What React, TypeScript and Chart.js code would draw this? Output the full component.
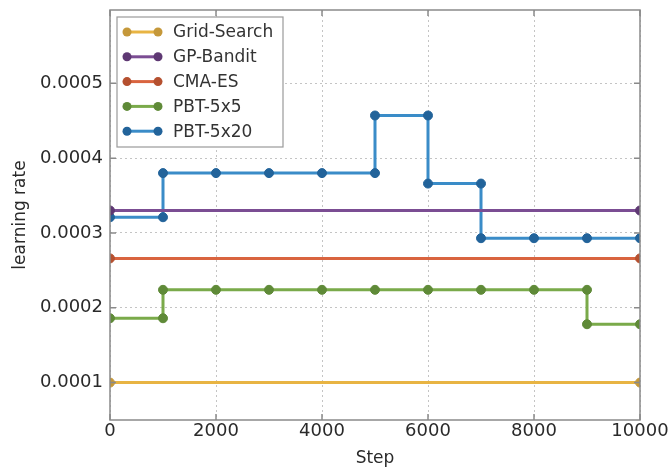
import React, { useEffect, useRef } from "react";
import { Chart, registerables } from "chart.js";

Chart.register(...registerables);

const seriesLabels = ["Grid-Search", "GP-Bandit", "CMA-ES", "PBT-5x5", "PBT-5x20"];

const gridSearchSteps = [0, 10000];
const gridSearchLR = [0.0001, 0.0001];

const gpBanditSteps = [0, 10000];
const gpBanditLR = [0.00033, 0.00033];

const cmaEsSteps = [0, 10000];
const cmaEsLR = [0.000266, 0.000266];

const pbt5x5Steps = [0, 1000, 1000, 2000, 3000, 4000, 5000, 6000, 7000, 8000, 9000, 9000, 10000];
const pbt5x5LR = [0.000186, 0.000186, 0.000224, 0.000224, 0.000224, 0.000224, 0.000224, 0.000224, 0.000224, 0.000224, 0.000224, 0.000178, 0.000178];

const pbt5x20Steps = [0, 1000, 1000, 2000, 3000, 4000, 5000, 5000, 6000, 6000, 7000, 7000, 8000, 9000, 10000];
const pbt5x20LR = [0.000321, 0.000321, 0.00038, 0.00038, 0.00038, 0.00038, 0.00038, 0.000457, 0.000457, 0.000366, 0.000366, 0.000293, 0.000293, 0.000293, 0.000293];

const yTickValues = [0.0001, 0.0002, 0.0003, 0.0004, 0.0005];
const xTickValues = [0, 2000, 4000, 6000, 8000, 10000];

const lineColors = ["#E8B443", "#7B4D93", "#D9643F", "#7AAA4A", "#3A8CC8"];
const markerColors = ["#C5983A", "#5E3873", "#B5502F", "#5F8A38", "#22639A"];

const FONT = "'DejaVu Sans', sans-serif";

function pairs(xs: number[], ys: number[]) {
  return xs.map((x, i) => ({ x, y: ys[i] }));
}

const framePlugin = {
  id: "frame",
  afterDatasetsDraw(chart: any) {
    const { ctx, chartArea: a, scales } = chart;
    ctx.save();
    ctx.strokeStyle = "#8a8a8a";
    ctx.lineWidth = 1.5;
    const tl = 6;
    ctx.beginPath();
    scales.x.ticks.forEach((t: any) => {
      const px = scales.x.getPixelForValue(t.value);
      ctx.moveTo(px, a.bottom);
      ctx.lineTo(px, a.bottom - tl);
      ctx.moveTo(px, a.top);
      ctx.lineTo(px, a.top + tl);
    });
    scales.y.ticks.forEach((t: any) => {
      const py = scales.y.getPixelForValue(t.value);
      ctx.moveTo(a.left, py);
      ctx.lineTo(a.left + tl, py);
      ctx.moveTo(a.right, py);
      ctx.lineTo(a.right - tl, py);
    });
    ctx.stroke();
    ctx.strokeRect(a.left, a.top, a.right - a.left, a.bottom - a.top);

    // legend inside upper left
    const bx = a.left + 7;
    const by = a.top + 7;
    const bw = 166;
    const bh = 130;
    ctx.fillStyle = "#ffffff";
    ctx.fillRect(bx, by, bw, bh);
    ctx.strokeStyle = "#9a9a9a";
    ctx.lineWidth = 1.2;
    ctx.strokeRect(bx, by, bw, bh);
    ctx.font = `17px ${FONT}`;
    ctx.textBaseline = "middle";
    ctx.textAlign = "left";
    chart.data.datasets.forEach((ds: any, i: number) => {
      const cy = by + 15 + i * 24.8;
      const x1 = bx + 10;
      const x2 = bx + 41;
      ctx.strokeStyle = ds.borderColor;
      ctx.lineWidth = 3;
      ctx.beginPath();
      ctx.moveTo(x1, cy);
      ctx.lineTo(x2, cy);
      ctx.stroke();
      ctx.fillStyle = ds.pointBackgroundColor;
      [x1, x2].forEach((px) => {
        ctx.beginPath();
        ctx.arc(px, cy, 4.5, 0, Math.PI * 2);
        ctx.fill();
      });
      ctx.fillStyle = "#333333";
      ctx.fillText(ds.label, bx + 56, cy + 1);
    });
    ctx.restore();
  },
};

export default function App() {
  const canvasRef = useRef<HTMLCanvasElement>(null);

  useEffect(() => {
    document.body.style.margin = "0";
    const canvas = canvasRef.current;
    if (!canvas) return;
    const steps = [gridSearchSteps, gpBanditSteps, cmaEsSteps, pbt5x5Steps, pbt5x20Steps];
    const lrs = [gridSearchLR, gpBanditLR, cmaEsLR, pbt5x5LR, pbt5x20LR];
    const chart = new Chart(canvas, {
      type: "line",
      data: {
        datasets: seriesLabels.map((label, i) => ({
          label,
          data: pairs(steps[i], lrs[i]),
          borderColor: lineColors[i],
          backgroundColor: lineColors[i],
          pointBackgroundColor: markerColors[i],
          pointBorderColor: markerColors[i],
          pointRadius: 4.5,
          pointBorderWidth: 1,
          borderWidth: 3,
          tension: 0,
          fill: false,
          clip: 0,
        })),
      },
      options: {
        responsive: false,
        animation: false,
        devicePixelRatio: 1,
        layout: { padding: { top: 10, right: 31, left: 0, bottom: 0 } },
        plugins: {
          legend: { display: false },
          tooltip: { enabled: false },
        },
        scales: {
          x: {
            type: "linear",
            min: 0,
            max: 10000,
            afterBuildTicks: (s: any) => {
              s.ticks = xTickValues.map((v) => ({ value: v }));
            },
            afterFit: (s: any) => {
              s.height = 47;
              s.paddingLeft = 0;
              s.paddingRight = 0;
            },
            ticks: {
              font: { family: FONT, size: 18 },
              color: "#2a2a2a",
              padding: 1,
              maxRotation: 0,
              callback: (v: any) => String(v),
            },
            grid: { color: "#c4c4c4", lineWidth: 1, drawTicks: false },
            border: { display: false, dash: [2, 3] },
            title: {
              display: true,
              text: "Step",
              font: { family: FONT, size: 17, lineHeight: 1.0 },
              color: "#2a2a2a",
              padding: { top: 0, bottom: 0 },
            },
          },
          y: {
            type: "linear",
            min: 0.00005,
            max: 0.000598,
            afterBuildTicks: (s: any) => {
              s.ticks = yTickValues.map((v) => ({ value: v }));
            },
            afterFit: (s: any) => {
              s.width = 110;
              s.paddingTop = 0;
              s.paddingBottom = 0;
            },
            ticks: {
              font: { family: FONT, size: 18 },
              color: "#2a2a2a",
              padding: 7,
              callback: (v: any) => Number(v).toFixed(4),
            },
            grid: { color: "#c4c4c4", lineWidth: 1, drawTicks: false },
            border: { display: false, dash: [2, 3] },
            title: {
              display: true,
              text: "learning rate",
              font: { family: FONT, size: 17 },
              color: "#2a2a2a",
              padding: { top: 10, bottom: 0 },
            },
          },
        },
      },
      plugins: [framePlugin],
    });
    return () => chart.destroy();
  }, []);

  return <canvas ref={canvasRef} width={671} height={467} />;
}
